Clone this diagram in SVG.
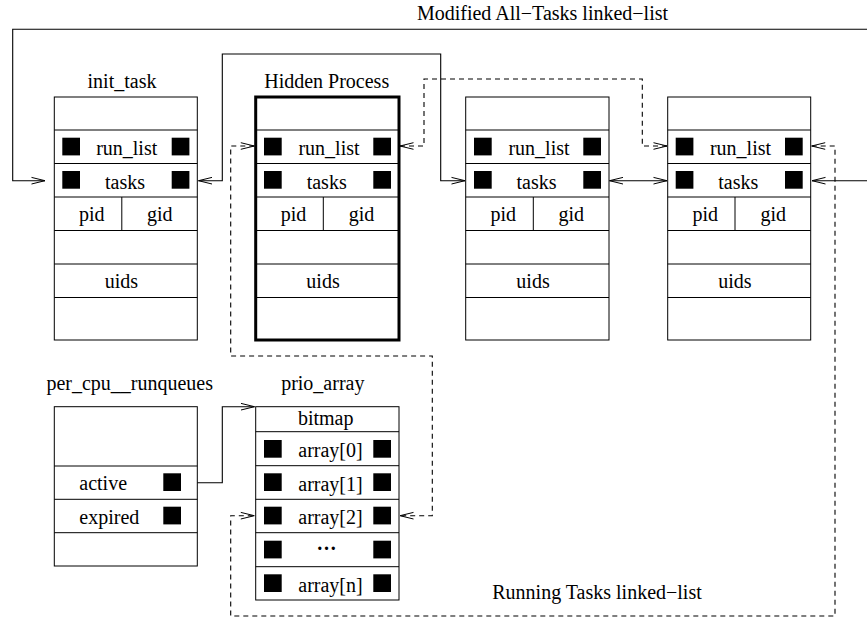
<svg xmlns="http://www.w3.org/2000/svg" width="867" height="617" viewBox="0 0 867 617">
<defs>
<style>
text{font-family:"Liberation Serif","Times New Roman",serif;font-size:20px;fill:#000}
.c{text-anchor:middle}
.box{fill:#fff;stroke:#000;stroke-width:1}
.thick{fill:#fff;stroke:#000;stroke-width:3}
.ln{stroke:#000;stroke-width:1;fill:none}
.sq{fill:#000}
.con{fill:none;stroke:#000;stroke-width:1.1}
.dash{stroke-dasharray:5,4}
</style>
<marker id="ah" markerUnits="userSpaceOnUse" markerWidth="20" markerHeight="10" refX="0" refY="0" viewBox="-15 -5 20 10" orient="auto-start-reverse" overflow="visible">
<path d="M-13.5,-3.3 L0,0 L-13.5,3.3" fill="none" stroke="#000" stroke-width="1" stroke-dasharray="none"/>
</marker>
</defs>

<g id="connectors">
<path class="con" d="M867,29.3 H12.7 V180.7 H45" marker-end="url(#ah)"/>
<path class="con" d="M867,180.7 H812" marker-end="url(#ah)"/>
<path class="con" d="M198.5,180.7 H222.3 V54 H440.7 V180.7 H465" marker-start="url(#ah)" marker-end="url(#ah)"/>
<path class="con" d="M609.5,180.7 H667" marker-start="url(#ah)" marker-end="url(#ah)"/>
<path class="con" d="M181,482.7 H222.3 V406.7 H254.5" marker-end="url(#ah)"/>
<path class="con dash" d="M400,146 H424 V79 H642.3 V146 H667" marker-start="url(#ah)" marker-end="url(#ah)"/>
<path class="con dash" d="M254.3,146 H230.7 V356 H432.3 V515.7 H400" marker-start="url(#ah)" marker-end="url(#ah)"/>
<path class="con dash" d="M811.7,146 H835 V616 H230.7 V515.7 H254.3" marker-start="url(#ah)" marker-end="url(#ah)"/>
</g>

<g id="labels">
<text class="c" x="542.5" y="20">Modified All−Tasks linked−list</text>
<text class="c" x="597" y="599">Running Tasks linked−list</text>
</g>

<g id="init_task">
<text class="c" x="122" y="88">init_task</text>
<rect class="box" x="54.3" y="97" width="143" height="243"/>
<path class="ln" d="M54.3,130 H197.3 M54.3,163.5 H197.3 M54.3,197 H197.3 M54.3,230.5 H197.3 M54.3,264 H197.3 M54.3,297.5 H197.3 M121.8,197 V230.5"/>
<rect class="sq" x="62.3" y="137.7" width="17.7" height="17.7"/>
<rect class="sq" x="171.7" y="137.7" width="17.7" height="17.7"/>
<rect class="sq" x="62.3" y="171" width="17.7" height="17.7"/>
<rect class="sq" x="171.7" y="171" width="17.7" height="17.7"/>
<text class="c" x="126.7" y="155">run_list</text>
<text class="c" x="125" y="189">tasks</text>
<text class="c" x="91.8" y="221">pid</text>
<text class="c" x="159.8" y="221">gid</text>
<text class="c" x="121.3" y="288.3">uids</text>
</g>

<g id="hidden_process">
<text class="c" x="326.7" y="88">Hidden Process</text>
<rect class="thick" x="255.7" y="97" width="143.3" height="243"/>
<path class="ln" d="M255.7,130 H399 M255.7,163.5 H399 M255.7,197 H399 M255.7,230.5 H399 M255.7,264 H399 M255.7,297.5 H399 M323.3,197 V230.5"/>
<rect class="sq" x="264" y="137.7" width="17.7" height="17.7"/>
<rect class="sq" x="373.3" y="137.7" width="17.7" height="17.7"/>
<rect class="sq" x="264" y="171" width="17.7" height="17.7"/>
<rect class="sq" x="373.3" y="171" width="17.7" height="17.7"/>
<text class="c" x="329" y="155">run_list</text>
<text class="c" x="326.7" y="189">tasks</text>
<text class="c" x="293.5" y="221">pid</text>
<text class="c" x="361.5" y="221">gid</text>
<text class="c" x="323" y="288.3">uids</text>
</g>

<g id="task3">
<rect class="box" x="465.7" y="97" width="143.3" height="243"/>
<path class="ln" d="M465.7,130 H609 M465.7,163.5 H609 M465.7,197 H609 M465.7,230.5 H609 M465.7,264 H609 M465.7,297.5 H609 M533.3,197 V230.5"/>
<rect class="sq" x="474" y="137.7" width="17.7" height="17.7"/>
<rect class="sq" x="583.3" y="137.7" width="17.7" height="17.7"/>
<rect class="sq" x="474" y="171" width="17.7" height="17.7"/>
<rect class="sq" x="583.3" y="171" width="17.7" height="17.7"/>
<text class="c" x="539" y="155">run_list</text>
<text class="c" x="536.5" y="189">tasks</text>
<text class="c" x="503.3" y="221">pid</text>
<text class="c" x="571.3" y="221">gid</text>
<text class="c" x="533" y="288.3">uids</text>
</g>

<g id="task4">
<rect class="box" x="667.7" y="97" width="143" height="243"/>
<path class="ln" d="M667.7,130 H810.7 M667.7,163.5 H810.7 M667.7,197 H810.7 M667.7,230.5 H810.7 M667.7,264 H810.7 M667.7,297.5 H810.7 M735,197 V230.5"/>
<rect class="sq" x="675.7" y="137.7" width="17.7" height="17.7"/>
<rect class="sq" x="785" y="137.7" width="17.7" height="17.7"/>
<rect class="sq" x="675.7" y="171" width="17.7" height="17.7"/>
<rect class="sq" x="785" y="171" width="17.7" height="17.7"/>
<text class="c" x="740.5" y="155">run_list</text>
<text class="c" x="738.3" y="189">tasks</text>
<text class="c" x="705.2" y="221">pid</text>
<text class="c" x="773.2" y="221">gid</text>
<text class="c" x="734.8" y="288.3">uids</text>
</g>

<g id="per_cpu_runqueues">
<text class="c" x="129.7" y="390">per_cpu__runqueues</text>
<rect class="box" x="54.3" y="406.7" width="143" height="159.3"/>
<path class="ln" d="M54.3,466 H197.3 M54.3,499.3 H197.3 M54.3,532.7 H197.3"/>
<text x="79.3" y="490">active</text>
<text x="79.3" y="524.3">expired</text>
<rect class="sq" x="163.3" y="473.3" width="17.7" height="17.7"/>
<rect class="sq" x="163.3" y="506.7" width="17.7" height="17.7"/>
</g>

<g id="prio_array">
<text class="c" x="322.8" y="390">prio_array</text>
<rect class="box" x="255.7" y="406.7" width="143.3" height="193.3"/>
<path class="ln" d="M255.7,431.7 H399 M255.7,465.7 H399 M255.7,499.3 H399 M255.7,532.7 H399 M255.7,566.7 H399"/>
<text class="c" x="325.7" y="425">bitmap</text>
<text x="298.3" y="457.3">array[0]</text>
<text x="298.3" y="491">array[1]</text>
<text x="298.3" y="524.3">array[2]</text>
<text x="316.5" y="550" font-weight="bold">…</text>
<text x="298.3" y="591.7">array[n]</text>
<rect class="sq" x="264" y="440" width="17.7" height="17.7"/>
<rect class="sq" x="373.3" y="440" width="17.7" height="17.7"/>
<rect class="sq" x="264" y="473.3" width="17.7" height="17.7"/>
<rect class="sq" x="373.3" y="473.3" width="17.7" height="17.7"/>
<rect class="sq" x="264" y="506.7" width="17.7" height="17.7"/>
<rect class="sq" x="373.3" y="506.7" width="17.7" height="17.7"/>
<rect class="sq" x="264" y="540.7" width="17.7" height="17.7"/>
<rect class="sq" x="373.3" y="540.7" width="17.7" height="17.7"/>
<rect class="sq" x="264" y="574.3" width="17.7" height="17.7"/>
<rect class="sq" x="373.3" y="574.3" width="17.7" height="17.7"/>
</g>
</svg>
